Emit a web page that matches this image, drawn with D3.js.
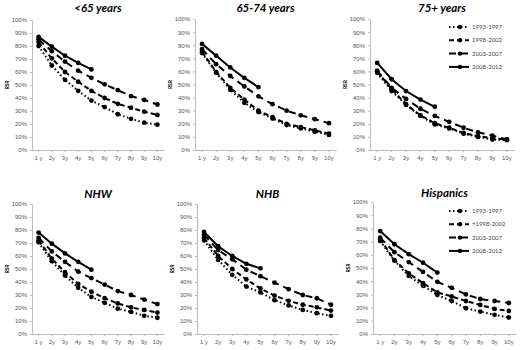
<!DOCTYPE html>
<html>
<head>
<meta charset="utf-8">
<script src="https://cdn.jsdelivr.net/npm/d3@7"></script>
<style>
  body { margin: 0; background: #fff; }
  svg { display: block; font-family: Lato, "Open Sans", sans-serif; }
  .tick text { fill: #555; font-size: 6px; }
  .domain, .tick line { stroke: #bbb; }
</style>
</head>
<body>
<div id="chart"></div>
<script>
// x categories
let years = ["1 y", "2y", "3y", "4y", "5y", "6y", "7y", "8y", "9y", "10y"]
let periods = ["1993-1997", "1998-2002", "2003-2007", "2008-2012"]
let yTicks = [0, 10, 20, 30, 40, 50, 60, 70, 80, 90, 100]

let titles = ["<65 years", "65-74 years", "75+ years", "NHW", "NHB", "Hispanics"]

// RSR (%) per panel, one array per period
let under65_9397 = [80, 65, 54, 45.5, 38, 33, 27.5, 24, 21, 19.5]
let under65_9802 = [83, 70.5, 60, 52.5, 45.5, 40, 35.5, 32.5, 29.5, 27]
let under65_0307 = [85, 76, 68, 61, 55.5, 50.5, 46, 41.5, 38.5, 35]
let under65_0812 = [87, 79.5, 72.5, 67, 62]

let age6574_9397 = [74, 59, 46, 36, 29, 24, 19, 16.5, 14, 11.5]
let age6574_9802 = [75, 59.5, 47.5, 38.5, 30, 25, 20, 17.5, 15, 12.5]
let age6574_0307 = [77, 65.5, 56.5, 48.5, 41, 35, 30, 26.5, 23.5, 20.5]
let age6574_0812 = [81, 72, 63, 55, 48]

let over75_9397 = [59, 45, 34.5, 26, 19.5, 16.5, 12.5, 10, 8, 7.5]
let over75_9802 = [60, 46.5, 35, 26.5, 20.5, 17, 13, 10.5, 9, 8]
let over75_0307 = [60.5, 47.5, 39, 31.5, 26, 21.5, 17, 13.5, 11, 8]
let over75_0812 = [66.5, 54, 45, 38.5, 33]

let nhw_9397 = [70.5, 56, 45, 35.5, 28.5, 24, 19.5, 17, 14, 12.5]
let nhw_9802 = [72, 58, 47.5, 38.5, 32.5, 27.5, 23.5, 20.5, 18.5, 16.5]
let nhw_0307 = [74, 63.5, 55.5, 48, 43, 38, 33, 30, 26.5, 23]
let nhw_0812 = [78, 69.5, 62, 55.5, 49.5]

let nhb_9397 = [72, 57, 45.5, 36.5, 32, 26, 22, 18.5, 16, 14]
let nhb_9802 = [74, 60, 50, 42, 35, 29.5, 25.5, 22.5, 20.5, 18]
let nhb_0307 = [76.5, 64.5, 57.5, 49.5, 44.5, 39.5, 34.5, 30, 27.5, 22.5]
let nhb_0812 = [78.5, 67.5, 60, 54, 50.5]

let hisp_9397 = [70.5, 55.5, 44, 36.5, 29.5, 25, 19.5, 17, 14.5, 12.5]
let hisp_9802 = [72, 56, 46, 38.5, 31.5, 28.5, 25, 22, 19, 17.5]
let hisp_0307 = [73, 62, 54.5, 47, 39.5, 35, 30, 26.5, 25, 23.5]
let hisp_0812 = [78, 68, 60.5, 54, 46.5]

let panelData = [
    [under65_9397, under65_9802, under65_0307, under65_0812],
    [age6574_9397, age6574_9802, age6574_0307, age6574_0812],
    [over75_9397, over75_9802, over75_0307, over75_0812],
    [nhw_9397, nhw_9802, nhw_0307, nhw_0812],
    [nhb_9397, nhb_9802, nhb_0307, nhb_0812],
    [hisp_9397, hisp_9802, hisp_0307, hisp_0812]
]

// legend text as printed in each legend
let legendTop = ["1993-1997", "1998-2002", "2003-2007", "2008-2012"]
let legendBottom = ["1993-1997", "+1998-2002", "2003-2007", "2008-2012"]

let width = 520
let height = 350

let svg = d3.select("#chart")
        .append("svg")
        .attr("width", width)
        .attr("height", height)

// panel frames: left of plot, right of plot, top (100%), bottom (0%)
let frames = [
    {x0: 32, x1: 164, y0: 20, y1: 150, title: 12},
    {x0: 195, x1: 336, y0: 19, y1: 150, title: 12},
    {x0: 370, x1: 514, y0: 19, y1: 150, title: 12},
    {x0: 32, x1: 164, y0: 204, y1: 334, title: 198},
    {x0: 197, x1: 338, y0: 204, y1: 334, title: 198},
    {x0: 373, x1: 516, y0: 202, y1: 334, title: 197}
]

let dashes = ["1.5,2.5", "5,3", "7,5", null]

panelData.forEach(function(series, i){
    let f = frames[i]
    let g = svg.append("g")

    let xScale = d3.scaleBand()
                    .domain(years)
                    .range([f.x0, f.x1])
    let yScale = d3.scaleLinear()
                    .domain([0, 100])
                    .range([f.y1, f.y0])

    let xAxis = d3.axisBottom(xScale).tickSize(2).tickSizeOuter(0)
    let yAxis = d3.axisLeft(yScale)
                    .tickValues(yTicks)
                    .tickFormat(function(d){ return d + "%" })
                    .tickSize(2)
                    .tickSizeOuter(0)

    g.append("g")
        .attr("transform", `translate(0, ${f.y1})`)
        .call(xAxis)
        .selectAll("text")
        .attr("dy", "0.9em")

    g.append("g")
        .attr("transform", `translate(${f.x0}, 0)`)
        .call(yAxis)

    //title
    g.append("text")
        .attr("x", (f.x0 + f.x1) / 2)
        .attr("y", f.title)
        .attr("text-anchor", "middle")
        .style("font-size", "11.5px")
        .style("font-weight", "bold")
        .style("font-style", "italic")
        .text(titles[i])

    //y label
    g.append("text")
        .attr("transform", `translate(${f.x0 - 23}, ${(f.y0 + f.y1) / 2}) rotate(-90)`)
        .attr("text-anchor", "middle")
        .style("font-size", "5px")
        .style("font-weight", "bold")
        .text("RSR")

    let line = d3.line()
                .x(function(d, j){ return xScale(years[j]) + xScale.bandwidth() / 2 })
                .y(function(d){ return yScale(d) })

    series.forEach(function(vals, s){
        g.append("path")
            .attr("d", line(vals))
            .attr("fill", "none")
            .attr("stroke", "#000")
            .attr("stroke-width", 2)
            .attr("stroke-dasharray", dashes[s])

        g.selectAll(null)
            .data(vals)
            .enter()
            .append("circle")
            .attr("cx", function(d, j){ return xScale(years[j]) + xScale.bandwidth() / 2 })
            .attr("cy", function(d){ return yScale(d) })
            .attr("r", 2.4)
            .attr("fill", "#000")
    })
})

// legends
function drawLegend(x, y, labels){
    let lg = svg.append("g").attr("transform", `translate(${x}, ${y})`)
    labels.forEach(function(lab, s){
        let ly = s * 13.3
        lg.append("line")
            .attr("x1", 0).attr("x2", 20)
            .attr("y1", ly).attr("y2", ly)
            .attr("stroke", "#000")
            .attr("stroke-width", 2)
            .attr("stroke-dasharray", dashes[s])
        lg.append("circle")
            .attr("cx", 11).attr("cy", ly).attr("r", 2.2)
        lg.append("text")
            .attr("x", 23)
            .attr("y", ly)
            .attr("dy", "0.35em")
            .style("font-size", "6px")
            .style("fill", "#444")
            .text(lab)
    })
}

drawLegend(449, 27, legendTop)
drawLegend(449, 211, legendBottom)
</script>
</body>
</html>
